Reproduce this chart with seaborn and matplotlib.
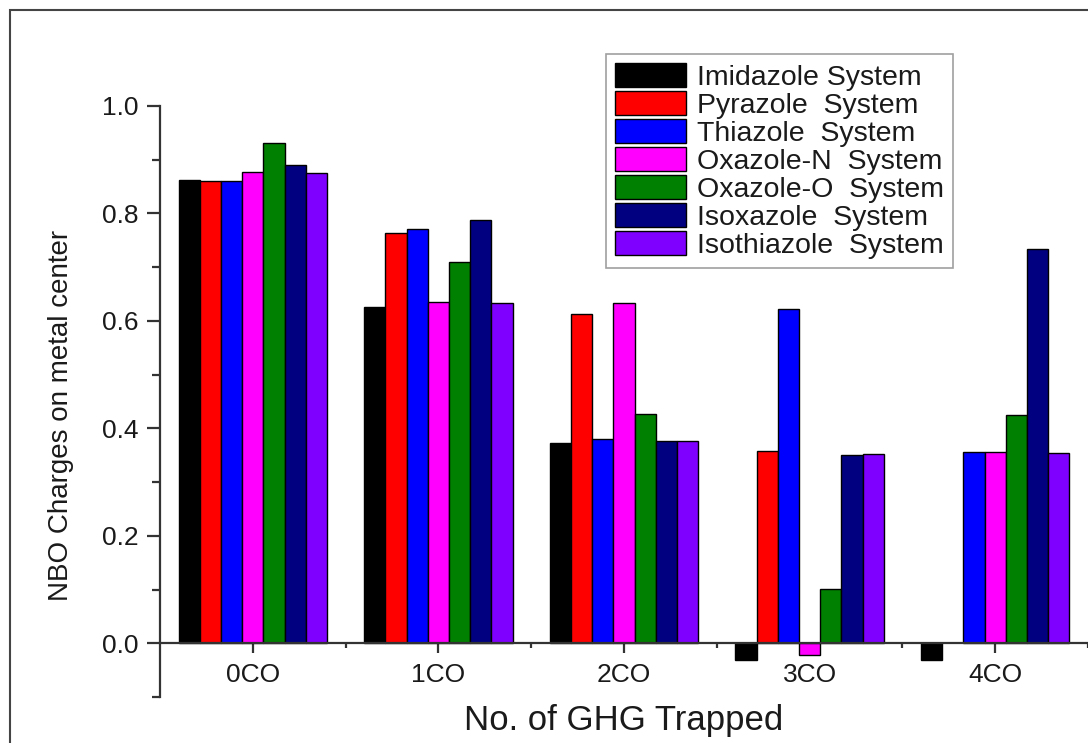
import numpy as np
import pandas as pd
import matplotlib
matplotlib.use("Agg")
import matplotlib.pyplot as plt
import seaborn as sns
from matplotlib.ticker import MultipleLocator, FixedLocator, FormatStrFormatter
from matplotlib.patches import Rectangle

# ---------------- data ----------------
categories = ["0CO", "1CO", "2CO", "3CO", "4CO"]
systems = ["Imidazole System", "Pyrazole  System", "Thiazole  System",
           "Oxazole-N  System", "Oxazole-O  System", "Isoxazole  System",
           "Isothiazole  System"]
imidazole = [0.863, 0.626, 0.372, -0.031, -0.031]
pyrazole = [0.860, 0.763, 0.612, 0.358, np.nan]
thiazole = [0.860, 0.771, 0.381, 0.622, 0.356]
oxazole_n = [0.877, 0.636, 0.634, -0.022, 0.356]
oxazole_o = [0.931, 0.710, 0.427, 0.101, 0.424]
isoxazole = [0.890, 0.788, 0.376, 0.350, 0.734]
isothiazole = [0.876, 0.634, 0.377, 0.352, 0.354]
colors = ["#000000", "#FF0000", "#0000FF", "#FF00FF", "#008000", "#000080", "#8000FF"]

series = [imidazole, pyrazole, thiazole, oxazole_n, oxazole_o, isoxazole, isothiazole]
rows = []
for name, vals in zip(systems, series):
    for cat, v in zip(categories, vals):
        rows.append({"GHG": cat, "charge": v, "system": name})
df = pd.DataFrame(rows)

# ---------------- figure ----------------
sns.set_style("white")
plt.rcParams["font.family"] = ["Liberation Sans", "DejaVu Sans"]
txt = "#1a1a1a"
plt.rcParams["text.color"] = txt
plt.rcParams["axes.labelcolor"] = txt
plt.rcParams["xtick.color"] = "#333333"
plt.rcParams["ytick.color"] = "#333333"
plt.rcParams["xtick.labelcolor"] = txt
plt.rcParams["ytick.labelcolor"] = txt

W, H = 1088, 743
fig = plt.figure(figsize=(W / 100, H / 100), dpi=100)
ax = fig.add_axes([160 / W, 1 - 697 / H, 928 / W, 591 / H])

sns.barplot(data=df, x="GHG", y="charge", hue="system", order=categories,
            hue_order=systems, palette=colors, saturation=1, width=0.8,
            edgecolor="black", linewidth=1.0, errorbar=None, ax=ax)

ax.set_xlim(-0.5, 4.5)
ax.set_ylim(-0.1, 1.0)

for s in ["top", "right"]:
    ax.spines[s].set_visible(False)
ax.spines["bottom"].set_position(("data", 0))
for s in ["left", "bottom"]:
    ax.spines[s].set_color("#333333")
    ax.spines[s].set_linewidth(1.6)

ax.yaxis.set_major_locator(MultipleLocator(0.2))
ax.yaxis.set_minor_locator(MultipleLocator(0.1))
ax.yaxis.set_major_formatter(FormatStrFormatter("%.1f"))
ax.xaxis.set_minor_locator(FixedLocator([0.5, 1.5, 2.5, 3.5, 4.5]))

ax.tick_params(axis="y", which="major", direction="out", length=9.5, width=1.6,
               labelsize=19, pad=6, left=True)
ax.tick_params(axis="y", which="minor", direction="out", length=6, width=1.6, left=True)
ax.tick_params(axis="x", which="major", direction="out", length=7, width=1.6,
               labelsize=19, pad=7, bottom=True)
ax.tick_params(axis="x", which="minor", direction="out", length=3.5, width=1.6, bottom=True)

ax.set_xlabel("No. of GHG Trapped", fontsize=25)
ax.set_ylabel("NBO Charges on metal center", fontsize=20)
ax.xaxis.set_label_coords(0.5, -0.012)
ax.yaxis.set_label_coords(-0.093, 0.477)

handles, labels = ax.get_legend_handles_labels()
leg = ax.legend(handles, labels, loc="upper left",
                bbox_to_anchor=(606 / W, 1 - 54 / H), bbox_transform=fig.transFigure,
                frameon=True, fancybox=False, fontsize=20.5, handlelength=2.5,
                handleheight=0.95, handletextpad=0.4, labelspacing=0.0,
                borderpad=0.3, borderaxespad=0)
leg.get_frame().set_edgecolor("#888888")
leg.get_frame().set_linewidth(1.2)

# outer figure frame
fig.patches.append(Rectangle((10 / W, -0.05), 1.2, 1 - 10 / H + 0.05,
                             transform=fig.transFigure, fill=False,
                             edgecolor="#444444", linewidth=1.5))

fig.savefig("out.png", dpi=100)
